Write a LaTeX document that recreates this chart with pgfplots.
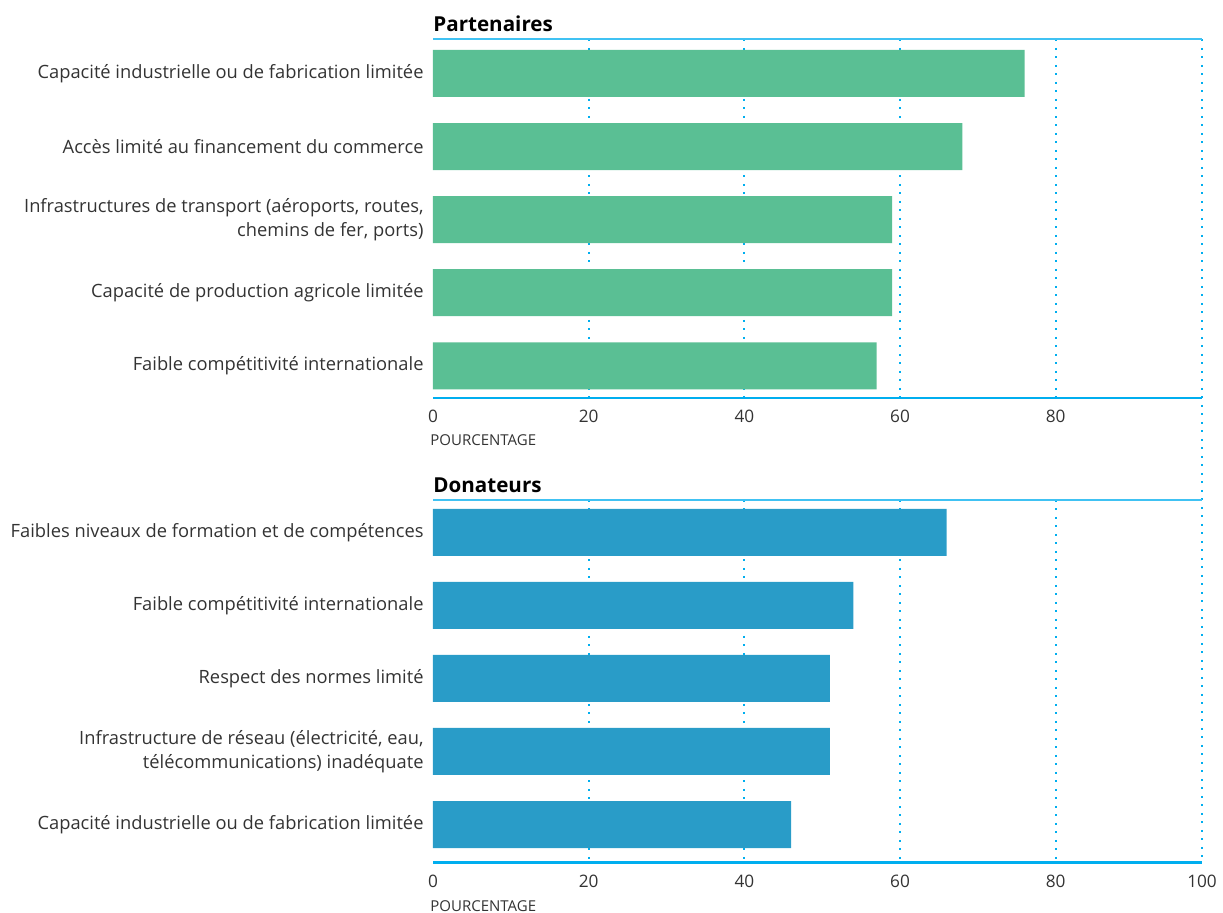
\documentclass[border=0pt]{standalone}
\usepackage{pgfplots}
\pgfplotsset{compat=1.18}
\usepackage{fontspec}
\setmainfont{Open Sans}
\definecolor{bargreen}{HTML}{5ABF94}
\definecolor{barblue}{HTML}{299CC8}
\definecolor{linecyan}{HTML}{00AEEF}
\definecolor{textgray}{HTML}{333333}
\pgfplotstableread[col sep=comma]{
y,v
0,76
1,68
2,59
3,59
4,57
}\partdata
\pgfplotstableread[col sep=comma]{
y,v
0,66
1,54
2,51
3,51
4,46
}\dondata
\begin{document}
\begin{tikzpicture}
\useasboundingbox (0,0) rectangle (611.5pt,456.5pt);
\pgfplotsset{
  base/.style={
    scale only axis, width=384.5pt,
    xmin=0, xmax=98.8,
    xbar, bar width=23.5pt,
    y dir=reverse,
    ytick={0,1,2,3,4},
    xtick={20,40,60,80},
    xticklabels={20,40,60,80},
    extra x ticks={0,98.8},
    extra tick style={grid=none},
    major tick length=0pt,
    axis line style={draw=none},
    xmajorgrids,
    grid style={linecyan, line width=1pt, dash pattern=on 1pt off 3.25pt},
    tick label style={text=textgray},
    xticklabel style={font=\fontsize{8.6}{11}\selectfont, yshift=-2.5pt},
    yticklabel style={align=right, font=\fontsize{9.15}{12}\selectfont, xshift=-1.2pt},
    clip=false,
  }
}
\begin{axis}[base, name=top,
  at={(216.5pt,257.5pt)}, anchor=south west,
  height=179.25pt, ymin=-0.465, ymax=4.44,
  extra x tick labels={0,},
  yticklabels={Capacité industrielle ou de fabrication limitée,
    Accès limité au financement du commerce,
    {Infrastructures de transport (aéroports, routes,\\chemins de fer, ports)},
    Capacité de production agricole limitée,
    Faible compétitivité internationale},
]
\addplot[fill=bargreen, draw=none] table[x=v, y=y] {\partdata};
\end{axis}
\begin{axis}[base, name=bot,
  at={(216.5pt,25.15pt)}, anchor=south west,
  height=181.35pt, ymin=-0.445, ymax=4.523,
  extra x tick labels={0,100},
  yticklabels={Faibles niveaux de formation et de compétences,
    Faible compétitivité internationale,
    Respect des normes limité,
    {Infrastructure de réseau (électricité, eau,\\télécommunications) inadéquate},
    Capacité industrielle ou de fabrication limitée},
]
\addplot[fill=barblue, draw=none] table[x=v, y=y] {\dondata};
\end{axis}
\draw[linecyan, line width=1pt, dash pattern=on 1pt off 3.25pt] (top.north east) -- (bot.south east);
\draw[linecyan!75, line width=1pt] (top.north west) -- (top.north east);
\draw[linecyan, line width=1pt] (top.south west) -- (top.south east);
\draw[linecyan!75, line width=1pt] (bot.north west) -- (bot.north east);
\draw[linecyan, line width=1.5pt] (bot.south west) -- (bot.south east);
\node[anchor=base west, inner sep=0pt, font=\bfseries\fontsize{10.3}{13}\selectfont] at ([yshift=3.75pt]top.north west) {Partenaires};
\node[anchor=base west, inner sep=0pt, font=\bfseries\fontsize{10.3}{13}\selectfont] at ([yshift=3.75pt]bot.north west) {Donateurs};
\node[anchor=west, inner sep=0pt, text=textgray, font=\fontsize{7.5}{10}\selectfont] at ([xshift=-1.5pt,yshift=-21pt]top.south west) {POURCENTAGE};
\node[anchor=west, inner sep=0pt, text=textgray, font=\fontsize{7.5}{10}\selectfont] at ([xshift=-1.5pt,yshift=-21.5pt]bot.south west) {POURCENTAGE};
\end{tikzpicture}
\end{document}
